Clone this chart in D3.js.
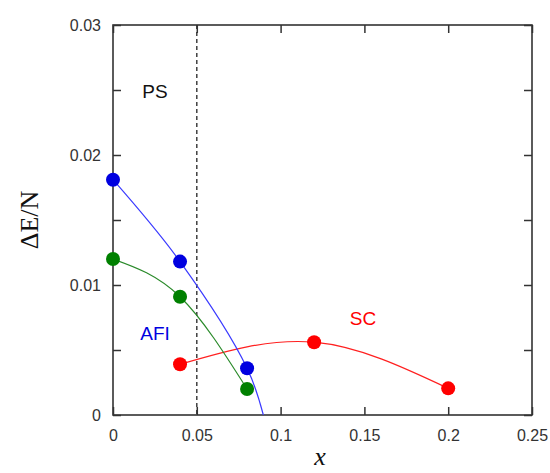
<!DOCTYPE html>
<html><head><meta charset="utf-8">
<script src="https://cdn.jsdelivr.net/npm/d3@7"></script>
<style>body{margin:0;background:#fff}</style>
</head><body>
<svg id="c" width="550" height="473"></svg>
<script>
// Data
const blueX = [0, 0.04, 0.08];
const blueY = [0.0181, 0.0118, 0.0036];
const blueCurveX = [0, 0.04, 0.08, 0.0897];
const blueCurveY = [0.0181, 0.0118, 0.0036, 0];
const greenX = [0, 0.04, 0.08];
const greenY = [0.0120, 0.0091, 0.0020];
const redX = [0.04, 0.12, 0.2];
const redY = [0.0039, 0.0056, 0.00205];
const xTicks = [0, 0.05, 0.1, 0.15, 0.2, 0.25];
const xTickLabels = ["0", "0.05", "0.1", "0.15", "0.2", "0.25"];
const yTicks = [0, 0.01, 0.02, 0.03];
const yTickLabels = ["0", "0.01", "0.02", "0.03"];
const yMinorTicks = [0.005, 0.015, 0.025];
const psLine = 0.05;

const svg = d3.select("#c");
const L = 113, R = 532, T = 25, B = 415;
const x = d3.scaleLinear().domain([0, 0.25]).range([L, R]);
const y = d3.scaleLinear().domain([0, 0.03]).range([B, T]);

svg.append("defs").append("clipPath").attr("id","clip")
  .append("rect").attr("x",L).attr("y",T).attr("width",R-L).attr("height",B-T);

const frameColor = "#333";
const tickFont = "Liberation Sans, Arial, sans-serif";

// Dashed line
svg.append("line").attr("x1",x(psLine)).attr("x2",x(psLine)).attr("y1",T).attr("y2",B)
  .attr("stroke","#333").attr("stroke-width",1.4).attr("stroke-dasharray","4,3");

// Axes with inward ticks
const gB = svg.append("g").attr("transform",`translate(0,${B})`)
  .call(d3.axisBottom(x).tickValues(xTicks).tickSize(-8).tickPadding(15).tickFormat((d,i)=>xTickLabels[i]));
const gT = svg.append("g").attr("transform",`translate(0,${T})`)
  .call(d3.axisTop(x).tickValues(xTicks).tickSize(-8).tickFormat(""));
const yAll = yTicks.concat(yMinorTicks);
const gL = svg.append("g").attr("transform",`translate(${L},0)`)
  .call(d3.axisLeft(y).tickValues(yAll).tickSize(-8).tickPadding(12)
    .tickFormat(d => { const i = yTicks.indexOf(d); return i>=0 ? yTickLabels[i] : ""; }));
const gR = svg.append("g").attr("transform",`translate(${R},0)`)
  .call(d3.axisRight(y).tickValues(yAll).tickSize(-8).tickFormat(""));
[gB,gT,gL,gR].forEach(g=>{
  g.select(".domain").remove();
  g.selectAll(".tick line").attr("stroke",frameColor).attr("stroke-width",1.5);
  g.selectAll("text").attr("font-family",tickFont).attr("font-size",16).attr("fill","#333");
});
svg.append("rect").attr("x",L).attr("y",T).attr("width",R-L).attr("height",B-T)
  .attr("fill","none").attr("stroke",frameColor).attr("stroke-width",1.6);

const plot = svg.append("g").attr("clip-path","url(#clip)");

function series(cx, cy, lx, ly, lineColor, dotColor, curve){
  const lineGen = d3.line().x(d=>x(d[0])).y(d=>y(d[1])).curve(curve);
  const pts = lx.map((v,i)=>[v, ly[i]]);
  plot.append("path").datum(pts).attr("d",lineGen).attr("fill","none")
    .attr("stroke",lineColor).attr("stroke-width",1.2);
  svg.append("g").selectAll("circle").data(cx.map((v,i)=>[v,cy[i]])).join("circle")
    .attr("cx",d=>x(d[0])).attr("cy",d=>y(d[1])).attr("r",7).attr("fill",dotColor);
}
series(redX, redY, redX, redY, "#ff2020", "#ff0000", d3.curveNatural);
series(greenX, greenY, greenX, greenY, "#2a8a2a", "#008000", d3.curveNatural);
series(blueX, blueY, blueCurveX, blueCurveY, "#3a3aff", "#0000e0", d3.curveCatmullRom.alpha(0.5));

// Labels
svg.append("text").attr("x",155).attr("y",98).attr("text-anchor","middle")
  .attr("font-family",tickFont).attr("font-size",19).attr("fill","#111").text("PS");
svg.append("text").attr("x",155).attr("y",340).attr("text-anchor","middle")
  .attr("font-family",tickFont).attr("font-size",19).attr("fill","#0000e0").text("AFI");
svg.append("text").attr("x",363).attr("y",325).attr("text-anchor","middle")
  .attr("font-family",tickFont).attr("font-size",19).attr("fill","#ff0000").text("SC");

// Axis titles
svg.append("text").attr("transform","translate(38,220) rotate(-90)").attr("text-anchor","middle")
  .attr("font-family","Liberation Serif, Times New Roman, serif").attr("font-size",26).attr("fill","#111")
  .text("ΔE/N");
svg.append("text").attr("x",320).attr("y",465).attr("text-anchor","middle")
  .attr("font-family","Liberation Serif, Times New Roman, serif").attr("font-style","italic")
  .attr("font-size",26).attr("fill","#111").text("x");
</script>
</body></html>
